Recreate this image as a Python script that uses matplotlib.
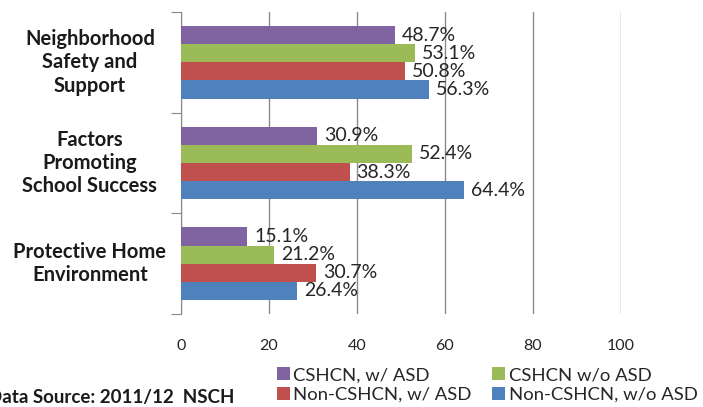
import numpy as np
import matplotlib.pyplot as plt

plt.rcParams['font.family'] = ['Lato', 'DejaVu Sans']

categories = ['Neighborhood\nSafety and\nSupport',
              'Factors\nPromoting\nSchool Success',
              'Protective Home\nEnvironment']
series_names = ['CSHCN, w/ ASD', 'CSHCN w/o ASD',
                'Non-CSHCN, w/ ASD', 'Non-CSHCN, w/o ASD']
cshcn_asd = [48.7, 30.9, 15.1]
cshcn_no_asd = [53.1, 52.4, 21.2]
non_cshcn_asd = [50.8, 38.3, 30.7]
non_cshcn_no_asd = [56.3, 64.4, 26.4]
x_ticks = [0, 20, 40, 60, 80, 100]

colors = ['#8064A2', '#9BBB59', '#C0504D', '#4F81BD']
text_col = '#262626'
grid_col = '#8a8a8a'

fig = plt.figure(figsize=(7.03, 4.07), dpi=100)
ax = fig.add_axes([181 / 703, 1 - 314 / 407, 440 / 703, 302 / 407])

y = np.arange(len(categories))
h = 0.18
bars = []
for j, (vals, name) in enumerate(zip([cshcn_asd, cshcn_no_asd, non_cshcn_asd, non_cshcn_no_asd],
                                     series_names)):
    b = ax.barh(y + (j - 1.5) * h, vals, height=h, color=colors[j], label=name, zorder=3)
    bars.append(b)
    for rect, v in zip(b, vals):
        ax.annotate(f'{v}%', (v, rect.get_y() + rect.get_height() / 2),
                    xytext=(5, 0), textcoords='offset points',
                    ha='left', va='center', fontsize=14, color=text_col, zorder=4)

ax.set_xlim(0, 100)
ax.set_ylim(2.5, -0.5)
ax.set_xticks(x_ticks)
ax.set_xticklabels([str(t) for t in x_ticks], fontsize=11.5, color=text_col)
ax.tick_params(axis='x', length=0, pad=18)
ax.set_yticks([-0.5, 0.5, 1.5, 2.5])
ax.set_yticklabels([])
ax.tick_params(axis='y', length=7, color=grid_col, direction='out')
ax.grid(axis='x', color=grid_col, lw=1, zorder=0)
for s in ['top', 'right', 'bottom']:
    ax.spines[s].set_visible(False)
ax.spines['left'].set_color(grid_col)

trans = ax.get_yaxis_transform()
for i, cat in enumerate(categories):
    ax.text(-0.207, i, cat, transform=trans, ha='center', va='center',
            fontsize=14.5, fontweight='bold', color='#1a1a1a', linespacing=1.2)

handles = [bars[0], bars[2], bars[1], bars[3]]
labels = [series_names[0], series_names[2], series_names[1], series_names[3]]
fig.legend(handles, labels, ncol=2, frameon=False, loc='center left',
           bbox_to_anchor=(260 / 703, 1 - 385 / 407), fontsize=13.3,
           handlelength=0.7, handleheight=0.7, handletextpad=0.2,
           columnspacing=1.1, labelspacing=0.2, labelcolor=text_col)

fig.text(-12 / 703, 1 - 398 / 407, 'Data Source: 2011/12  NSCH', ha='left', va='center',
         fontsize=13.5, fontweight='bold', color='#1a1a1a')

fig.savefig('out.png', dpi=100)
